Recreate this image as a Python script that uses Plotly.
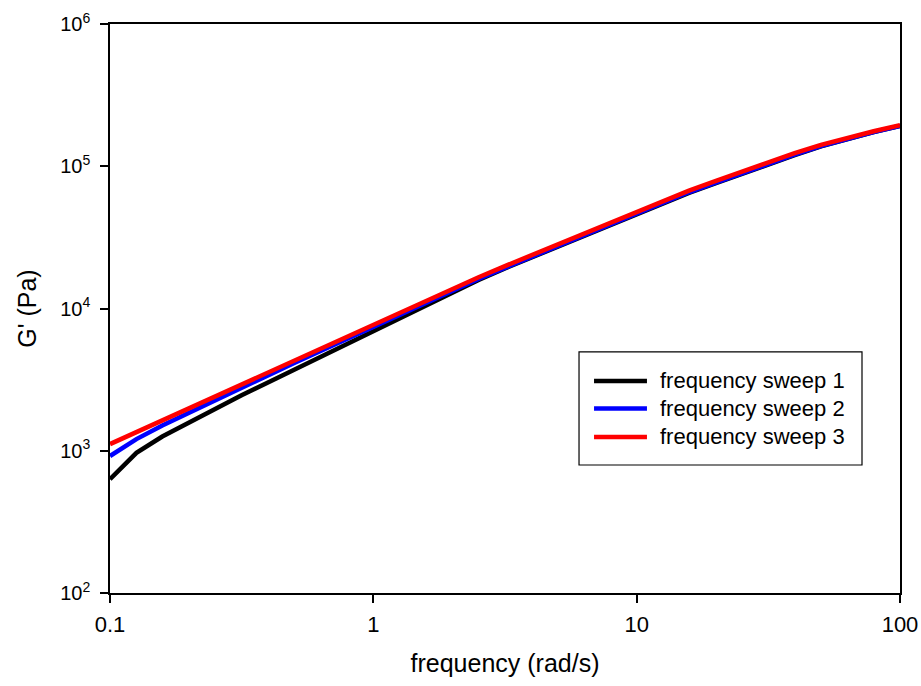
import plotly.graph_objects as go

frequency = [0.1, 0.126, 0.158, 0.2, 0.251, 0.316, 0.398, 0.501, 0.631, 0.794,
             1.0, 1.26, 1.58, 2.0, 2.51, 3.16, 3.98, 5.01, 6.31, 7.94,
             10.0, 12.6, 15.8, 20.0, 25.1, 31.6, 39.8, 50.1, 63.1, 79.4, 100.0]

sweep1 = [631, 966, 1259, 1585, 1972, 2455, 3020, 3715, 4571, 5623,
          6918, 8511, 10470, 12880, 15850, 19140, 22860, 27290, 32580, 38820,
          46240, 54950, 65010, 76030, 88510, 103750, 119700, 138000, 155600, 173800, 191900]

sweep2 = [918, 1208, 1507, 1862, 2280, 2780, 3388, 4140, 5035, 6138,
          7464, 9078, 11040, 13370, 16140, 19320, 23070, 27540, 32890, 39170,
          46670, 55460, 65620, 76740, 89330, 104500, 120500, 138700, 156300, 174200, 192300]

sweep3 = [1114, 1352, 1641, 1991, 2415, 2931, 3556, 4315, 5236, 6353,
          7709, 9354, 11350, 13740, 16600, 19860, 23710, 28310, 33810, 40270,
          47970, 57020, 67450, 78890, 91830, 107200, 123600, 141300, 158500, 176200, 194500]

series_names = ["frequency sweep 1", "frequency sweep 2", "frequency sweep 3"]
series_colors = ["#000000", "#0000ff", "#ff0000"]

x_tickvals = [0.1, 1, 10, 100]
x_ticktext = ["0.1", "1", "10", "100"]
y_tickvals = [1e2, 1e3, 1e4, 1e5, 1e6]
y_ticktext = ["10<sup>2</sup>", "10<sup>3</sup>", "10<sup>4</sup>", "10<sup>5</sup>", "10<sup>6</sup>"]

FONT = "Liberation Sans, Arial, sans-serif"

fig = go.Figure()
for ys, name, color in zip([sweep1, sweep2, sweep3], series_names, series_colors):
    fig.add_trace(go.Scatter(x=frequency, y=ys, mode="lines", name=name,
                             line=dict(color=color, width=4.5), showlegend=False))

axis_common = dict(showline=True, linecolor="black", linewidth=1.5, mirror=True,
                   ticks="outside", ticklen=8, tickwidth=1.5, tickcolor="black",
                   showgrid=False, zeroline=False, automargin=False)

fig.update_xaxes(type="log", range=[-1, 2], tickvals=x_tickvals, ticktext=x_ticktext,
                 tickfont=dict(family=FONT, size=22, color="black"),
                 title=dict(text="frequency (rad/s)", font=dict(family=FONT, size=25, color="black"),
                            standoff=18),
                 ticklabelstandoff=3, **axis_common)
fig.update_yaxes(type="log", range=[2, 6], tickvals=y_tickvals, ticktext=y_ticktext,
                 tickfont=dict(family=FONT, size=20, color="black"),
                 title=dict(text="G' (Pa)", font=dict(family=FONT, size=25, color="black"),
                            standoff=16),
                 ticklabelstandoff=6, **axis_common)

# Legend box drawn in paper coordinates (matches the boxed legend of the reference)
leg_x0, leg_x1, leg_y0, leg_y1 = 0.5937, 0.9519, 0.225, 0.4236
row_y = [0.3726, 0.3243, 0.2742]
shapes = [dict(type="rect", xref="paper", yref="paper", x0=leg_x0, x1=leg_x1,
               y0=leg_y0, y1=leg_y1, line=dict(color="black", width=1.2),
               fillcolor="white", layer="above")]
annotations = []
for name, color, ry in zip(series_names, series_colors, row_y):
    shapes.append(dict(type="line", xref="paper", yref="paper", x0=0.6127, x1=0.6797,
                       y0=ry, y1=ry, line=dict(color=color, width=4.5), layer="above"))
    annotations.append(dict(xref="paper", yref="paper", x=0.6937, y=ry, text=name,
                            showarrow=False, xanchor="left", yanchor="middle",
                            font=dict(family=FONT, size=22, color="black")))

fig.update_layout(
    width=921, height=686,
    margin=dict(l=110, r=21, t=24, b=93),
    paper_bgcolor="white", plot_bgcolor="white",
    font=dict(family=FONT, color="black"),
    showlegend=False,
    shapes=shapes,
    annotations=annotations,
)

fig.write_html("out.html",
               config={"displayModeBar": False},
               post_script="document.body.style.margin='0';document.body.style.padding='0';")
